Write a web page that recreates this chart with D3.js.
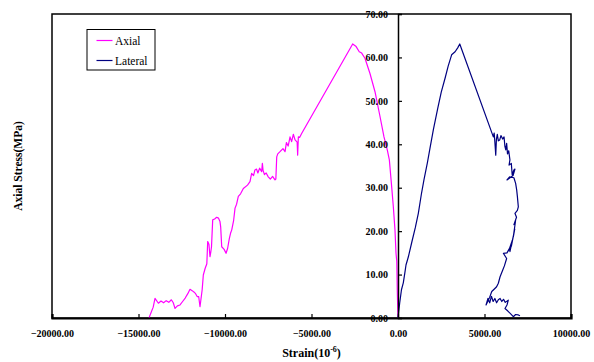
<!DOCTYPE html>
<html>
<head>
<meta charset="utf-8">
<script src="https://cdn.jsdelivr.net/npm/d3@7"></script>
<style>
  body { margin: 0; background: #fff; }
  svg { display: block; }
  .tick text { font-family: "Liberation Serif", "Times New Roman", serif; font-weight: bold; font-size: 10px; fill: #000; }
</style>
</head>
<body>
<script>
//// Constants ////
const WIDTH = 594
const HEIGHT = 362
const LEFT = 52, RIGHT = 571, TOP = 14, BOTTOM = 318

const AXIAL_COLOR = "#ff00ff"
const LATERAL_COLOR = "#000080"

//// Data ////
const xTicks = [-20000, -15000, -10000, -5000, 0, 5000, 10000]
const yTicks = [0, 10, 20, 30, 40, 50, 60, 70]
const seriesNames = ["Axial", "Lateral"]

// [strain (1e-6), stress (MPa)]
const axial = [
  [0, 0], [-40, 6], [-70, 13], [-115, 14.9], [-175, 20.3], [-270, 25.6], [-365, 30.2],
  [-500, 36.4], [-620, 38.7], [-810, 41.7], [-1040, 46.4], [-1330, 52.1], [-1620, 56.3],
  [-1910, 59.8], [-2100, 61.0], [-2240, 61.3], [-2420, 62.5], [-2620, 63.1],
  [-5570, 42.5], [-5680, 41.6], [-5760, 41.7], [-5800, 37.5], [-5830, 40.5], [-5950, 41.0],
  [-6050, 42.3], [-6150, 40.6], [-6240, 41.7], [-6350, 39.6], [-6450, 40.4], [-6530, 38.3],
  [-6650, 39.0], [-6820, 38.3], [-6950, 37.8], [-7010, 37.1], [-7060, 32.0], [-7110, 31.8],
  [-7250, 32.6], [-7380, 32.0], [-7500, 32.5], [-7620, 33.4], [-7720, 33.0], [-7800, 34.0],
  [-7840, 35.6], [-7880, 33.7], [-8000, 34.5], [-8100, 33.4], [-8180, 34.3], [-8270, 34.1],
  [-8350, 32.8], [-8460, 33.3], [-8555, 31.4], [-8700, 30.6], [-8940, 29.8], [-9100, 28.6],
  [-9230, 28.0], [-9330, 26.2], [-9420, 25.3], [-9500, 22.5], [-9610, 20.3], [-9680, 19.5],
  [-9750, 18.3], [-9850, 16.0], [-9940, 14.9], [-10050, 15.8], [-10190, 16.4], [-10250, 21.0],
  [-10290, 22.2], [-10380, 23.0], [-10480, 23.2], [-10600, 22.8], [-10711, 22.6], [-10780, 16.4],
  [-10820, 15.2], [-10867, 14.1], [-10930, 17.0], [-11000, 17.6], [-11050, 12.5], [-11150, 11.4],
  [-11253, 9.9], [-11320, 6.5], [-11445, 2.6], [-11520, 4.9], [-11600, 4.9], [-11700, 5.6],
  [-11800, 6.0], [-11900, 6.3], [-12023, 6.6], [-12150, 5.6], [-12300, 4.6], [-12450, 3.8],
  [-12600, 3.0], [-12750, 2.8], [-12890, 2.2], [-12990, 3.5], [-13100, 4.2], [-13250, 3.6],
  [-13400, 4.0], [-13550, 3.5], [-13700, 3.9], [-13850, 3.4], [-14046, 4.5], [-14150, 2.5],
  [-14300, 1.0], [-14393, 0]
]

const lateral = [
  [0, 0], [40, 1.5], [100, 3.5], [200, 6.5], [306, 8.1], [400, 10.5], [462, 12.2], [600, 14.1],
  [800, 17.5], [1000, 20.8], [1175, 24.1], [1350, 28.5], [1500, 31.8], [1700, 35.8], [1850, 39.1],
  [2050, 43.5], [2300, 48.3], [2500, 52.0], [2720, 55.2], [2900, 58.0], [3100, 60.6], [3300, 61.3],
  [3450, 62.2], [3570, 63.1],
  [5510, 41.7], [5560, 42.6], [5600, 40.5], [5650, 37.5], [5690, 41.2], [5740, 42.3], [5800, 40.8],
  [5880, 41.0], [5950, 42.0], [6050, 41.2], [6130, 41.7], [6180, 39.5], [6230, 38.7], [6280, 40.2],
  [6330, 37.8], [6400, 38.5], [6470, 36.4], [6420, 35.2], [6550, 35.6], [6600, 33.0], [6700, 34.1],
  [6760, 34.3], [6650, 32.8], [6300, 31.8], [6450, 32.5], [6700, 32.3], [6800, 31.0], [6860, 29.5],
  [6900, 28.0], [6955, 25.6], [6900, 24.8], [6760, 24.1], [6850, 23.2], [6700, 21.5], [6800, 22.5],
  [6665, 18.7], [6750, 20.5], [6550, 16.5], [6700, 19.5], [6470, 15.3], [6600, 17.8], [6400, 15.5],
  [6470, 16.2], [6300, 15.0], [6090, 14.9], [6280, 13.7], [6150, 12.0], [6050, 11.0], [5900, 9.5],
  [5800, 8.0], [5700, 7.2], [5600, 6.8], [5420, 6.1], [5300, 4.8], [5090, 3.0], [5200, 4.5],
  [5300, 3.5], [5400, 5.0], [5500, 3.8], [5600, 4.5], [5700, 3.5], [5800, 4.2], [5900, 4.5],
  [6000, 3.8], [6100, 4.3], [6200, 3.6], [6375, 4.1], [6300, 3.0], [6185, 2.2], [6350, 1.6],
  [6500, 1.0], [6665, 0.3], [6800, 0.8], [6955, 0.7], [7050, 0.5]
]

//// Scales ////
const x = d3.scaleLinear().domain([-20000, 10000]).range([LEFT, RIGHT])
const y = d3.scaleLinear().domain([0, 70]).range([BOTTOM, TOP])

const svg = d3.select("body").append("svg")
  .attr("width", WIDTH)
  .attr("height", HEIGHT)

svg.append("defs").append("clipPath").attr("id", "plot")
  .append("rect")
  .attr("x", LEFT).attr("y", TOP)
  .attr("width", RIGHT - LEFT).attr("height", BOTTOM - TOP)

// frame
svg.append("rect")
  .attr("x", LEFT).attr("y", TOP)
  .attr("width", RIGHT - LEFT).attr("height", BOTTOM - TOP)
  .attr("fill", "none")
  .attr("stroke", "#000")
  .attr("stroke-width", 1.5)

// curves
const line = d3.line().x(d => x(d[0])).y(d => y(d[1]))
const curves = svg.append("g").attr("clip-path", "url(#plot)")
curves.append("path").datum(axial)
  .attr("d", line)
  .attr("fill", "none")
  .attr("stroke", AXIAL_COLOR)
  .attr("stroke-width", 1.2)
  .attr("stroke-linejoin", "round")
curves.append("path").datum(lateral)
  .attr("d", line)
  .attr("fill", "none")
  .attr("stroke", LATERAL_COLOR)
  .attr("stroke-width", 1.2)
  .attr("stroke-linejoin", "round")

// y axis sits on strain = 0
const yAxis = svg.append("g")
  .attr("transform", `translate(${x(0)},0)`)
  .call(d3.axisLeft(y).tickValues(yTicks).tickSize(-4).tickPadding(10).tickFormat(d3.format(".2f")))
yAxis.select(".domain").attr("stroke-width", 1.5)
yAxis.selectAll(".tick line").attr("stroke-width", 1.2)

// x axis on the bottom edge
const xAxis = svg.append("g")
  .attr("transform", `translate(0,${BOTTOM})`)
  .call(d3.axisBottom(x).tickValues(xTicks).tickSize(-4).tickPadding(12).tickFormat(d3.format(".2f")))
xAxis.select(".domain").attr("stroke-width", 2.2)
xAxis.selectAll(".tick line").attr("stroke-width", 1.2)

// axis titles
const title = svg.append("text")
  .attr("x", (LEFT + RIGHT) / 2)
  .attr("y", 357)
  .attr("text-anchor", "middle")
  .style("font-family", "'Liberation Serif', serif")
  .style("font-weight", "bold")
  .style("font-size", "12px")
title.append("tspan").text("Strain(10")
title.append("tspan").attr("dy", -5).style("font-size", "8px").text("-6")
title.append("tspan").attr("dy", 5).text(")")

svg.append("text")
  .attr("transform", `translate(22,${(TOP + BOTTOM) / 2}) rotate(-90)`)
  .attr("text-anchor", "middle")
  .style("font-family", "'Liberation Serif', serif")
  .style("font-weight", "bold")
  .style("font-size", "11.5px")
  .text("Axial Stress(MPa)")

// legend
const legend = svg.append("g")
legend.append("rect")
  .attr("x", 87).attr("y", 29.5)
  .attr("width", 68).attr("height", 40.5)
  .attr("fill", "#fff")
  .attr("stroke", "#000")
  .attr("stroke-width", 1)
const legendColors = [AXIAL_COLOR, LATERAL_COLOR]
seriesNames.forEach((name, i) => {
  const ly = 40.5 + i * 20
  legend.append("line")
    .attr("x1", 96.5).attr("x2", 112.5)
    .attr("y1", ly).attr("y2", ly)
    .attr("stroke", legendColors[i])
    .attr("stroke-width", 1.2)
  legend.append("text")
    .attr("x", 115).attr("y", ly + 4)
    .style("font-family", "'Liberation Serif', serif")
    .style("font-size", "11.5px")
    .text(name)
})
</script>
</body>
</html>
